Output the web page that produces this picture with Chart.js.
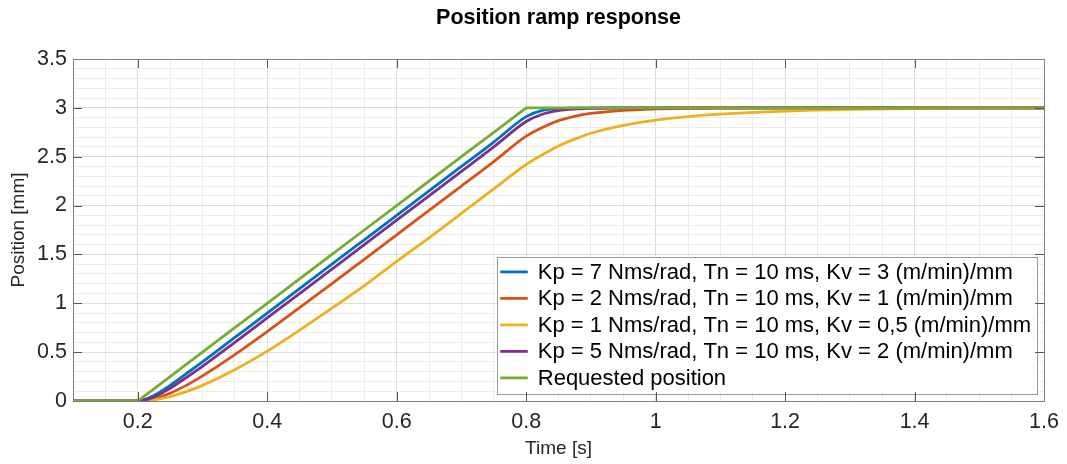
<!DOCTYPE html>
<html lang="en">
<head>
    <meta charset="UTF-8">
    <title>Position ramp response</title>
    <script src="https://cdn.jsdelivr.net/npm/chart.js"></script>
    <style>
        html, body { margin: 0; padding: 0; background: #fff; }
        #wrap { position: relative; width: 1067px; height: 464px; }
    </style>
</head>
<body>
    <div id="wrap">
        <canvas id="rampChart"></canvas>
    </div>

    <script>
        // Time axis [s]
        const times = [0.1, 0.2, 0.225, 0.25, 0.275, 0.3, 0.35, 0.4, 0.45, 0.5, 0.55, 0.6, 0.65, 0.7, 0.75,
                       0.8, 0.825, 0.85, 0.875, 0.9, 0.95, 1.0, 1.05, 1.1, 1.2, 1.3, 1.4, 1.5, 1.6];

        // Position [mm]
        const posKv3 = [0, 0, 0.055, 0.16, 0.28, 0.40, 0.65, 0.90, 1.15, 1.40, 1.65, 1.90, 2.15, 2.40, 2.65,
                        2.91, 2.975, 2.993, 2.998, 3, 3, 3, 3, 3, 3, 3, 3, 3, 3];
        const posKv1 = [0, 0, 0.023, 0.08, 0.16, 0.257, 0.475, 0.71, 0.955, 1.20, 1.45, 1.70, 1.95, 2.20, 2.45,
                        2.71, 2.80, 2.87, 2.914, 2.943, 2.975, 2.989, 2.995, 2.998, 3, 3, 3, 3, 3];
        const posKv05 = [0, 0, 0.012, 0.045, 0.096, 0.16, 0.32, 0.51, 0.725, 0.95, 1.18, 1.43, 1.67, 1.92, 2.17,
                         2.42, 2.52, 2.61, 2.68, 2.74, 2.82, 2.875, 2.91, 2.935, 2.966, 2.984, 2.993, 2.997, 2.999];
        const posKv2 = [0, 0, 0.04, 0.13, 0.24, 0.355, 0.60, 0.85, 1.10, 1.35, 1.60, 1.85, 2.10, 2.35, 2.60,
                        2.86, 2.935, 2.972, 2.988, 2.995, 2.999, 3, 3, 3, 3, 3, 3, 3, 3];
        const posRequested = [0, 0, 0.125, 0.25, 0.375, 0.5, 0.75, 1.0, 1.25, 1.5, 1.75, 2.0, 2.25, 2.5, 2.75,
                              3, 3, 3, 3, 3, 3, 3, 3, 3, 3, 3, 3, 3, 3];

        const seriesLabels = [
            'Kp = 7 Nms/rad, Tn = 10 ms, Kv = 3 (m/min)/mm',
            'Kp = 2 Nms/rad, Tn = 10 ms, Kv = 1 (m/min)/mm',
            'Kp = 1 Nms/rad, Tn = 10 ms, Kv = 0,5 (m/min)/mm',
            'Kp = 5 Nms/rad, Tn = 10 ms, Kv = 2 (m/min)/mm',
            'Requested position'
        ];
        const seriesColors = ['#0072BD', '#D95319', '#EDB120', '#7E2F8E', '#77AC30'];
        const seriesValues = [posKv3, posKv1, posKv05, posKv2, posRequested];

        const FONT = '"Liberation Sans", Arial, Helvetica, sans-serif';
        const TEXT = '#262626';

        const isMajor = (v, step) => Math.abs(v / step - Math.round(v / step)) < 1e-6;
        const fmt = v => String(+v.toFixed(2));

        // datasets, later legend entries drawn on top (like MATLAB)
        const datasets = seriesValues.map((vals, i) => ({
            label: seriesLabels[i],
            data: times.map((t, k) => ({ x: t, y: vals[k] })),
            borderColor: seriesColors[i],
            backgroundColor: seriesColors[i],
            borderWidth: 2.8,
            pointRadius: 0,
            fill: false,
            cubicInterpolationMode: i === 4 ? 'default' : 'monotone',
            tension: 0,
            order: seriesValues.length - 1 - i
        }));

        // box, inner tick marks, title and legend
        const matlabLook = {
            id: 'matlabLook',
            afterDatasetsDraw(chart) {
                const ctx = chart.ctx;
                const area = chart.chartArea;
                ctx.save();
                ctx.font = '22px ' + FONT;
                const rowH = 26.5;
                const textW = Math.max(...seriesLabels.map(l => ctx.measureText(l).width));
                const boxW = 41 + textW + 6;
                const boxH = rowH * seriesLabels.length + 4;
                const bx = area.right - 7 - boxW;
                const by = area.bottom - 8 - boxH;
                ctx.fillStyle = '#fff';
                ctx.fillRect(bx, by, boxW, boxH);
                ctx.strokeStyle = '#9a9a9a';
                ctx.lineWidth = 1;
                ctx.strokeRect(Math.round(bx) + 0.5, Math.round(by) + 0.5, Math.round(boxW), Math.round(boxH));
                ctx.textBaseline = 'middle';
                ctx.textAlign = 'left';
                seriesLabels.forEach((label, i) => {
                    const cy = by + 15.4 + i * rowH;
                    ctx.strokeStyle = seriesColors[i];
                    ctx.lineWidth = 2.8;
                    ctx.beginPath();
                    ctx.moveTo(bx + 3.5, cy);
                    ctx.lineTo(bx + 31, cy);
                    ctx.stroke();
                    ctx.fillStyle = '#000';
                    ctx.fillText(label, bx + 41, cy + 1);
                });
                ctx.restore();
            },
            afterDraw(chart) {
                const ctx = chart.ctx;
                const area = chart.chartArea;
                const xs = chart.scales.x;
                const ys = chart.scales.y;
                ctx.save();
                ctx.strokeStyle = '#555';
                ctx.lineWidth = 1;
                ctx.beginPath();
                xs.ticks.forEach(t => {
                    if (!isMajor(t.value, 0.2)) return;
                    const px = Math.round(xs.getPixelForValue(t.value)) + 0.5;
                    ctx.moveTo(px, area.bottom); ctx.lineTo(px, area.bottom - 9);
                    ctx.moveTo(px, area.top); ctx.lineTo(px, area.top + 9);
                });
                ys.ticks.forEach(t => {
                    if (!isMajor(t.value, 0.5)) return;
                    const py = Math.round(ys.getPixelForValue(t.value)) + 0.5;
                    ctx.moveTo(area.left, py); ctx.lineTo(area.left + 9, py);
                    ctx.moveTo(area.right, py); ctx.lineTo(area.right - 9, py);
                });
                ctx.stroke();
                ctx.strokeStyle = '#808080';
                ctx.strokeRect(Math.round(area.left) + 0.5, Math.round(area.top) + 0.5,
                               Math.round(area.right - area.left), Math.round(area.bottom - area.top));
                // title
                ctx.fillStyle = '#000';
                ctx.font = 'bold 21.5px ' + FONT;
                ctx.textAlign = 'center';
                ctx.textBaseline = 'middle';
                ctx.fillText('Position ramp response', (area.left + area.right) / 2, 18);
                ctx.restore();
            }
        };

        new Chart(document.getElementById('rampChart'), {
            type: 'line',
            data: { datasets: datasets },
            options: {
                responsive: true,
                maintainAspectRatio: false,
                animation: false,
                layout: { padding: { top: 59, right: 19, left: 0, bottom: 0 } },
                plugins: {
                    legend: { display: false },
                    title: { display: false },
                    tooltip: { enabled: false }
                },
                scales: {
                    x: {
                        type: 'linear',
                        min: 0.1,
                        max: 1.6,
                        afterFit: s => { s.height = 63; },
                        ticks: {
                            stepSize: 0.05,
                            autoSkip: false,
                            maxRotation: 0,
                            padding: 8,
                            color: TEXT,
                            font: { family: FONT, size: 21.5 },
                            callback: v => isMajor(v, 0.2) ? fmt(v) : ''
                        },
                        grid: {
                            drawTicks: false,
                            color: c => (c.tick && isMajor(c.tick.value, 0.2)) ? '#dcdcdc' : '#ececec',
                            lineWidth: 1
                        },
                        border: { color: '#808080', width: 1 },
                        title: {
                            display: true,
                            text: 'Time [s]',
                            color: TEXT,
                            font: { family: FONT, size: 19 },
                            padding: { top: 0, bottom: 4 }
                        }
                    },
                    y: {
                        type: 'linear',
                        min: 0,
                        max: 3.5,
                        afterFit: s => { s.width = 73; },
                        ticks: {
                            stepSize: 0.1,
                            autoSkip: false,
                            padding: 6,
                            color: TEXT,
                            font: { family: FONT, size: 21.5 },
                            callback: v => isMajor(v, 0.5) ? fmt(v) : ''
                        },
                        grid: {
                            drawTicks: false,
                            color: c => (c.tick && isMajor(c.tick.value, 0.5)) ? '#dcdcdc' : '#ececec',
                            lineWidth: 1
                        },
                        border: { color: '#808080', width: 1 },
                        title: {
                            display: true,
                            text: 'Position [mm]',
                            color: TEXT,
                            font: { family: FONT, size: 19 },
                            padding: { top: 7, bottom: 0 }
                        }
                    }
                }
            },
            plugins: [matlabLook]
        });
    </script>
</body>
</html>
